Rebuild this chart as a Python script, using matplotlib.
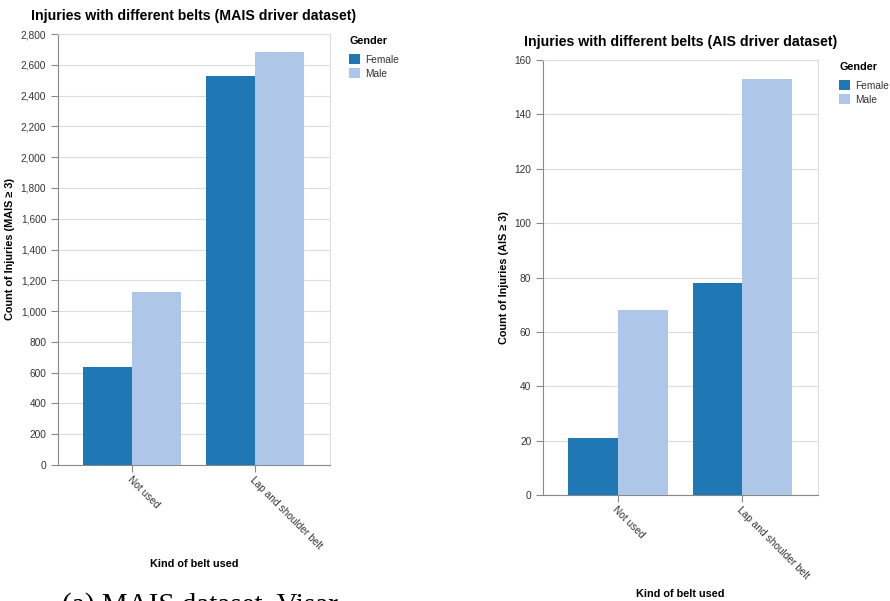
import matplotlib.pyplot as plt
import numpy as np

plt.rcParams['font.family'] = ['Liberation Sans', 'DejaVu Sans']

# counts per belt type, split by gender
belts = ['Not used', 'Lap and shoulder belt']
genders = ['Female', 'Male']
mais_female = [637, 2525]
mais_male = [1125, 2685]
ais_female = [21, 78]
ais_male = [68, 153]

colors = ['#1f77b4', '#aec7e8']
W, H = 890, 601

fig = plt.figure(figsize=(W / 100, H / 100), dpi=100)


def px_axes(left, top, right, bottom):
    return fig.add_axes([left / W, 1 - bottom / H, (right - left) / W, (bottom - top) / H])


def draw(ax, female, male, ymax, ystep, title, ylabel, leg_xy, xlab_y):
    x = np.arange(len(belts))
    w = 0.4
    b1 = ax.bar(x - w / 2, female, w, color=colors[0], label=genders[0], zorder=3)
    b2 = ax.bar(x + w / 2, male, w, color=colors[1], label=genders[1], zorder=3)
    ax.set_xlim(-0.605, 1.61)
    ax.set_ylim(0, ymax)
    ticks = np.arange(0, ymax + 1, ystep)
    ax.set_yticks(ticks)
    ax.set_yticklabels([f'{t:,}' for t in ticks])
    ax.set_xticks(x)
    ax.set_xticklabels(belts, rotation=-45, ha='left', va='top', rotation_mode='anchor')
    ax.grid(axis='y', color='#dddddd', linewidth=0.8, zorder=0)
    for s in ['top', 'right']:
        ax.spines[s].set_color('#dddddd')
    for s in ['left', 'bottom']:
        ax.spines[s].set_color('#888888')
    ax.tick_params(colors='#888888', labelcolor='#333333', labelsize=7.3, length=5, width=0.8)
    ax.tick_params(axis='x', pad=2)
    ax.set_title(title, fontsize=10.2, fontweight='bold', pad=10)
    ax.set_ylabel(ylabel, fontsize=7.8, fontweight='bold', labelpad=4)
    bb = ax.get_position()
    fig.text(bb.x0 + bb.width / 2, 1 - xlab_y / H, 'Kind of belt used',
             fontsize=7.8, fontweight='bold', ha='center', va='center')
    leg = fig.legend(handles=[b1, b2], labels=genders, title='Gender',
                     loc='upper left', bbox_to_anchor=(leg_xy[0] / W, 1 - leg_xy[1] / H),
                     frameon=False, fontsize=7.3, title_fontsize=7.8,
                     handlelength=1.1, handleheight=1.1, handletextpad=0.5,
                     labelspacing=0.35, borderpad=0, alignment='left')
    leg.get_title().set_fontweight('bold')
    leg._legend_box.sep = 6
    for t in leg.get_texts():
        t.set_color('#333333')


ax1 = px_axes(58, 34, 330, 465)
draw(ax1, mais_female, mais_male, 2800, 200,
     'Injuries with different belts (MAIS driver dataset)',
     'Count of Injuries (MAIS ≥ 3)', (344, 31), 564)

ax2 = px_axes(543, 60, 818, 495)
draw(ax2, ais_female, ais_male, 160, 20,
     'Injuries with different belts (AIS driver dataset)',
     'Count of Injuries (AIS ≥ 3)', (834, 57), 594)

# sub-caption, cut off at the page edge
fig.text(62 / W, 1 - 613 / H, '(a) MAIS dataset, Visar', fontsize=21,
         family=['Liberation Serif', 'DejaVu Serif'], ha='left', va='baseline')

fig.savefig('out.png', dpi=100)
